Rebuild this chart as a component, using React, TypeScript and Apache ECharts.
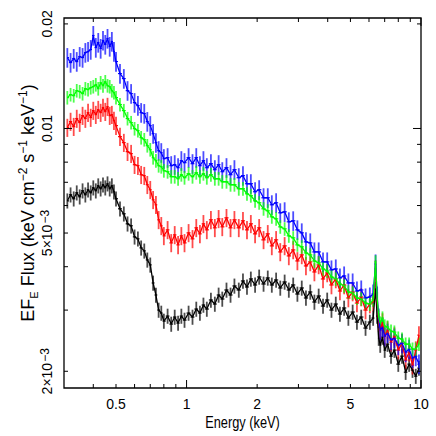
import React, { useEffect, useRef } from "react";
import * as echarts from "echarts";

// Energy bins (keV)
const energies = [
  0.31, 0.32, 0.33, 0.34, 0.35, 0.36, 0.37, 0.38, 0.39, 0.40,
  0.41, 0.42, 0.43, 0.44, 0.45, 0.46, 0.47, 0.48, 0.49, 0.50,
  0.52, 0.54, 0.56, 0.58, 0.60, 0.62, 0.64, 0.66, 0.68, 0.70,
  0.72, 0.74, 0.76, 0.78, 0.80, 0.83, 0.86, 0.89, 0.92, 0.95,
  0.98, 1.02, 1.06, 1.10, 1.14, 1.18, 1.22, 1.27, 1.32, 1.37,
  1.42, 1.48, 1.54, 1.60, 1.67, 1.74, 1.81, 1.88, 1.96, 2.04,
  2.13, 2.22, 2.31, 2.41, 2.51, 2.62, 2.73, 2.85, 2.97, 3.10,
  3.23, 3.37, 3.51, 3.66, 3.82, 3.98, 4.15, 4.33, 4.51, 4.70,
  4.90, 5.11, 5.33, 5.56, 5.80, 6.05, 6.25, 6.40, 6.50, 6.60,
  6.70, 6.85, 7.00, 7.20, 7.45, 7.70, 8.00, 8.30, 8.60, 8.90,
  9.20, 9.50, 9.80,
];

const fluxBlue = [
  0.01600, 0.01548, 0.01590, 0.01558, 0.01611, 0.01600, 0.01654, 0.01665, 0.01687, 0.01852,
  0.01710, 0.01768, 0.01699, 0.01792, 0.01745, 0.01816, 0.01722, 0.01780, 0.01665, 0.01558,
  0.01439, 0.01392, 0.01285, 0.01260, 0.01187, 0.01164, 0.01111, 0.01104, 0.01047, 0.01019,
  0.009664, 0.009104, 0.008632, 0.008518, 0.008185, 0.008240, 0.007814, 0.007866, 0.007711, 0.008077,
  0.007971, 0.008240, 0.007918, 0.008240, 0.007814, 0.008077, 0.007711, 0.007918, 0.007608, 0.007866,
  0.007508, 0.007711, 0.007360, 0.007608, 0.007215, 0.007312, 0.006933, 0.006933, 0.006574, 0.006662,
  0.006317, 0.006317, 0.006030, 0.006111, 0.005718, 0.005756, 0.005386, 0.005422, 0.005107, 0.005006,
  0.004716, 0.004684, 0.004412, 0.004412, 0.004129, 0.004129, 0.003915, 0.003941, 0.003713, 0.003762,
  0.003591, 0.003591, 0.003405, 0.003428, 0.003251, 0.003272, 0.003338, 0.004074, 0.003294, 0.002846,
  0.002628, 0.002681, 0.002525, 0.002576, 0.002459, 0.002492, 0.002379, 0.002410, 0.002271, 0.002316,
  0.002182, 0.002211, 0.002097,
];

const fluxGreen = [
  0.01227, 0.01252, 0.01243, 0.01285, 0.01277, 0.01260, 0.01302, 0.01294, 0.01311, 0.01320,
  0.01337, 0.01302, 0.01355, 0.01328, 0.01364, 0.01328, 0.01320, 0.01285, 0.01268, 0.01227,
  0.01172, 0.01126, 0.01068, 0.01040, 0.009990, 0.009859, 0.009411, 0.009287, 0.008924, 0.008690,
  0.008240, 0.008077, 0.007814, 0.007762, 0.007558, 0.007508, 0.007263, 0.007263, 0.007167, 0.007360,
  0.007215, 0.007409, 0.007263, 0.007458, 0.007263, 0.007409, 0.007215, 0.007360, 0.007167, 0.007167,
  0.007025, 0.007025, 0.006887, 0.006887, 0.006706, 0.006706, 0.006487, 0.006402, 0.006192, 0.006111,
  0.005872, 0.005794, 0.005568, 0.005494, 0.005210, 0.005141, 0.004908, 0.004843, 0.004623, 0.004562,
  0.004383, 0.004326, 0.004156, 0.004102, 0.003941, 0.003889, 0.003737, 0.003688, 0.003567, 0.003521,
  0.003383, 0.003360, 0.003251, 0.003229, 0.003144, 0.003123, 0.003208, 0.004129, 0.003251, 0.002865,
  0.002753, 0.002846, 0.002699, 0.002681, 0.002611, 0.002593, 0.002492, 0.002475, 0.002394, 0.002394,
  0.002316, 0.002316, 0.002394,
];

const fluxRed = [
  0.01006, 0.01047, 0.01012, 0.01068, 0.01040, 0.01089, 0.01068, 0.01111, 0.01075, 0.01126,
  0.01096, 0.01133, 0.01111, 0.01149, 0.01118, 0.01156, 0.01089, 0.01096, 0.01054, 0.01019,
  0.009473, 0.009104, 0.008575, 0.008462, 0.007866, 0.007814, 0.007360, 0.007312, 0.006887, 0.006662,
  0.006233, 0.006030, 0.005458, 0.005245, 0.004908, 0.005107, 0.004684, 0.004940, 0.004623, 0.004908,
  0.004684, 0.005006, 0.004811, 0.005176, 0.004973, 0.005315, 0.005107, 0.005458, 0.005176, 0.005494,
  0.005210, 0.005531, 0.005176, 0.005458, 0.005176, 0.005422, 0.005107, 0.005315, 0.004973, 0.005176,
  0.004779, 0.004973, 0.004592, 0.004779, 0.004412, 0.004592, 0.004297, 0.004471, 0.004156, 0.004326,
  0.004021, 0.004129, 0.003863, 0.004048, 0.003688, 0.003838, 0.003544, 0.003688, 0.003405, 0.003544,
  0.003251, 0.003383, 0.003144, 0.003272, 0.003001, 0.003123, 0.003165, 0.003941, 0.003186, 0.002771,
  0.002628, 0.002771, 0.002525, 0.002628, 0.002426, 0.002525, 0.002301, 0.002410, 0.002153, 0.002271,
  0.002083, 0.002301, 0.002542,
];

const fluxBlack = [
  0.006192, 0.006444, 0.006275, 0.006530, 0.006359, 0.006618, 0.006444, 0.006662, 0.006530, 0.006751,
  0.006618, 0.006842, 0.006706, 0.006887, 0.006751, 0.006933, 0.006706, 0.006842, 0.006574, 0.006275,
  0.005872, 0.005680, 0.005315, 0.005245, 0.004875, 0.004811, 0.004532, 0.004442, 0.004184, 0.004048,
  0.003591, 0.003316, 0.003001, 0.002942, 0.002790, 0.002884, 0.002735, 0.002865, 0.002753, 0.002884,
  0.002808, 0.002942, 0.002865, 0.003021, 0.002942, 0.003103, 0.003021, 0.003208, 0.003123, 0.003316,
  0.003229, 0.003428, 0.003316, 0.003521, 0.003428, 0.003639, 0.003497, 0.003688, 0.003544, 0.003737,
  0.003567, 0.003713, 0.003544, 0.003663, 0.003474, 0.003615, 0.003428, 0.003544, 0.003338, 0.003474,
  0.003251, 0.003383, 0.003165, 0.003294, 0.003082, 0.003208, 0.003001, 0.003123, 0.002923, 0.003042,
  0.002846, 0.002962, 0.002771, 0.002865, 0.002663, 0.002771, 0.002846, 0.003451, 0.002884, 0.002492,
  0.002379, 0.002509, 0.002301, 0.002394, 0.002211, 0.002301, 0.002097, 0.002211, 0.001988, 0.002097,
  0.002015, 0.001936, 0.002042,
];

// fractional 1-sigma uncertainty of each spectrum
const relErrBlack = 0.05;
const relErrRed = 0.06;
const relErrBlue = 0.065;
const relErrGreen = 0.045;

// axis ranges and ticks
const X_MIN = 0.3;
const X_MAX = 10;
const Y_MIN = 0.00179;
const Y_MAX = 0.0208;

const xTicks = [0.4, 0.5, 0.6, 0.7, 0.8, 0.9, 1, 2, 3, 4, 5, 6, 7, 8, 9, 10];
const xMajorTicks = [1, 10];
const xLabelValues = [0.5, 1, 2, 5, 10];
const xLabelTexts = ["0.5", "1", "2", "5", "10"];

const yTicks = [0.002, 0.003, 0.004, 0.005, 0.006, 0.007, 0.008, 0.009, 0.01, 0.02];
const yMajorTicks = [0.01];
const yLabelValues = [0.002, 0.005, 0.01, 0.02];
const yLabelTexts = ["2×10{sup|−3}", "5×10{sup|−3}", "0.01", "0.02"];

const FONT = '"Liberation Sans", Arial, Helvetica, sans-serif';

export default function App() {
  const ref = useRef<HTMLDivElement>(null);

  useEffect(() => {
    if (!ref.current) return;
    const chart = echarts.init(ref.current, null, { renderer: "svg" });

    const spectra = [
      { name: "black", color: "#000000", flux: fluxBlack, relErr: relErrBlack },
      { name: "red", color: "#ff0000", flux: fluxRed, relErr: relErrRed },
      { name: "blue", color: "#0000ff", flux: fluxBlue, relErr: relErrBlue },
      { name: "green", color: "#00ff00", flux: fluxGreen, relErr: relErrGreen },
    ];

    const dataSeries: any[] = [];
    spectra.forEach((s) => {
      const pts = energies.map((e, i) => [e, s.flux[i]]);
      dataSeries.push({
        type: "line",
        name: s.name,
        data: pts,
        showSymbol: false,
        symbol: "none",
        silent: true,
        lineStyle: { color: s.color, width: 1.3 },
      });
      dataSeries.push({
        type: "custom",
        name: s.name + "-err",
        silent: true,
        data: pts,
        renderItem: (params: any, api: any) => {
          const i = params.dataIndex;
          const e = energies[i];
          const f = s.flux[i];
          const eL = i > 0 ? Math.sqrt(e * energies[i - 1]) : e;
          const eR = i < energies.length - 1 ? Math.sqrt(e * energies[i + 1]) : e;
          const c = api.coord([e, f]);
          const l = api.coord([eL, f]);
          const r = api.coord([eR, f]);
          const lo = api.coord([e, f * (1 - s.relErr)]);
          const hi = api.coord([e, f * (1 + s.relErr)]);
          return {
            type: "group",
            children: [
              {
                type: "line",
                shape: { x1: l[0], y1: c[1], x2: r[0], y2: c[1] },
                style: { stroke: s.color, lineWidth: 1.2 },
              },
              {
                type: "line",
                shape: { x1: c[0], y1: hi[1], x2: c[0], y2: lo[1] },
                style: { stroke: s.color, lineWidth: 1.8, opacity: 0.7 },
              },
            ],
          };
        },
      });
    });

    const tickStyle = { stroke: "#000", lineWidth: 1 };

    const xTickSeries = {
      type: "custom",
      silent: true,
      z: 10,
      data: xTicks.map((v) => [v, Y_MIN]),
      renderItem: (params: any, api: any) => {
        const v = xTicks[params.dataIndex];
        const b = api.coord([v, Y_MIN]);
        const t = api.coord([v, Y_MAX]);
        const len = xMajorTicks.indexOf(v) >= 0 ? 8 : 4;
        return {
          type: "group",
          children: [
            { type: "line", shape: { x1: b[0], y1: b[1], x2: b[0], y2: b[1] - len }, style: tickStyle },
            { type: "line", shape: { x1: t[0], y1: t[1], x2: t[0], y2: t[1] + len }, style: tickStyle },
          ],
        };
      },
    };

    const yTickSeries = {
      type: "custom",
      silent: true,
      z: 10,
      data: yTicks.map((v) => [X_MIN, v]),
      renderItem: (params: any, api: any) => {
        const v = yTicks[params.dataIndex];
        const l = api.coord([X_MIN, v]);
        const r = api.coord([X_MAX, v]);
        const len = yMajorTicks.indexOf(v) >= 0 ? 8 : 4;
        return {
          type: "group",
          children: [
            { type: "line", shape: { x1: l[0], y1: l[1], x2: l[0] + len, y2: l[1] }, style: tickStyle },
            { type: "line", shape: { x1: r[0], y1: r[1], x2: r[0] - len, y2: r[1] }, style: tickStyle },
          ],
        };
      },
    };

    const xLabelSeries = {
      type: "custom",
      silent: true,
      z: 10,
      data: xLabelValues.map((v) => [v, Y_MIN]),
      renderItem: (params: any, api: any) => {
        const v = xLabelValues[params.dataIndex];
        const b = api.coord([v, Y_MIN]);
        return {
          type: "text",
          x: b[0],
          y: b[1] + 16,
          style: {
            text: xLabelTexts[params.dataIndex],
            fill: "#000",
            fontSize: 14,
            fontFamily: FONT,
            align: "center",
            verticalAlign: "middle",
          },
        };
      },
    };

    const yLabelSeries = {
      type: "custom",
      silent: true,
      z: 10,
      data: yLabelValues.map((v) => [X_MIN, v]),
      renderItem: (params: any, api: any) => {
        const v = yLabelValues[params.dataIndex];
        const p = api.coord([X_MIN, v]);
        return {
          type: "text",
          x: p[0] - 17,
          y: p[1],
          rotation: Math.PI / 2,
          style: {
            text: yLabelTexts[params.dataIndex],
            fill: "#000",
            fontSize: 14,
            fontFamily: FONT,
            lineHeight: 17,
            align: "center",
            verticalAlign: "middle",
            rich: {
              sup: {
                fontSize: 12,
                fontFamily: FONT,
                fill: "#000",
                verticalAlign: "top",
                padding: [0, 0, 0, 1],
              },
            },
          },
        };
      },
    };

    const option: any = {
      animation: false,
      backgroundColor: "#ffffff",
      grid: {
        left: 64,
        right: 15,
        top: 18,
        bottom: 48,
        show: true,
        borderColor: "#000",
        borderWidth: 1.3,
        backgroundColor: "transparent",
      },
      xAxis: {
        type: "log",
        logBase: 10,
        min: X_MIN,
        max: X_MAX,
        axisLine: { show: false },
        axisTick: { show: false },
        axisLabel: { show: false },
        splitLine: { show: false },
      },
      yAxis: {
        type: "log",
        logBase: 10,
        min: Y_MIN,
        max: Y_MAX,
        axisLine: { show: false },
        axisTick: { show: false },
        axisLabel: { show: false },
        splitLine: { show: false },
      },
      graphic: [
        {
          type: "text",
          x: 28,
          y: 203,
          rotation: Math.PI / 2,
          style: {
            text: "EF{sub|E} Flux (keV cm{sup|−2} s{sup|−1} keV{sup|−1})",
            fill: "#000",
            fontSize: 18,
            fontFamily: FONT,
            lineHeight: 22,
            align: "center",
            verticalAlign: "middle",
            rich: {
              sub: { fontSize: 11, fontFamily: FONT, fill: "#000", verticalAlign: "bottom" },
              sup: { fontSize: 12, fontFamily: FONT, fill: "#000", verticalAlign: "top" },
            },
          },
        },
        {
          type: "text",
          x: 242.5,
          y: 422,
          scaleX: 0.8,
          style: {
            text: "Energy (keV)",
            fill: "#000",
            fontSize: 16,
            fontFamily: FONT,
            align: "center",
            verticalAlign: "middle",
          },
        },
      ],
      series: [...dataSeries, xTickSeries, yTickSeries, xLabelSeries, yLabelSeries],
    };

    chart.setOption(option);
    return () => chart.dispose();
  }, []);

  return (
    <div
      ref={ref}
      style={{ position: "absolute", left: 0, top: 0, width: 436, height: 436, background: "#fff" }}
    />
  );
}
